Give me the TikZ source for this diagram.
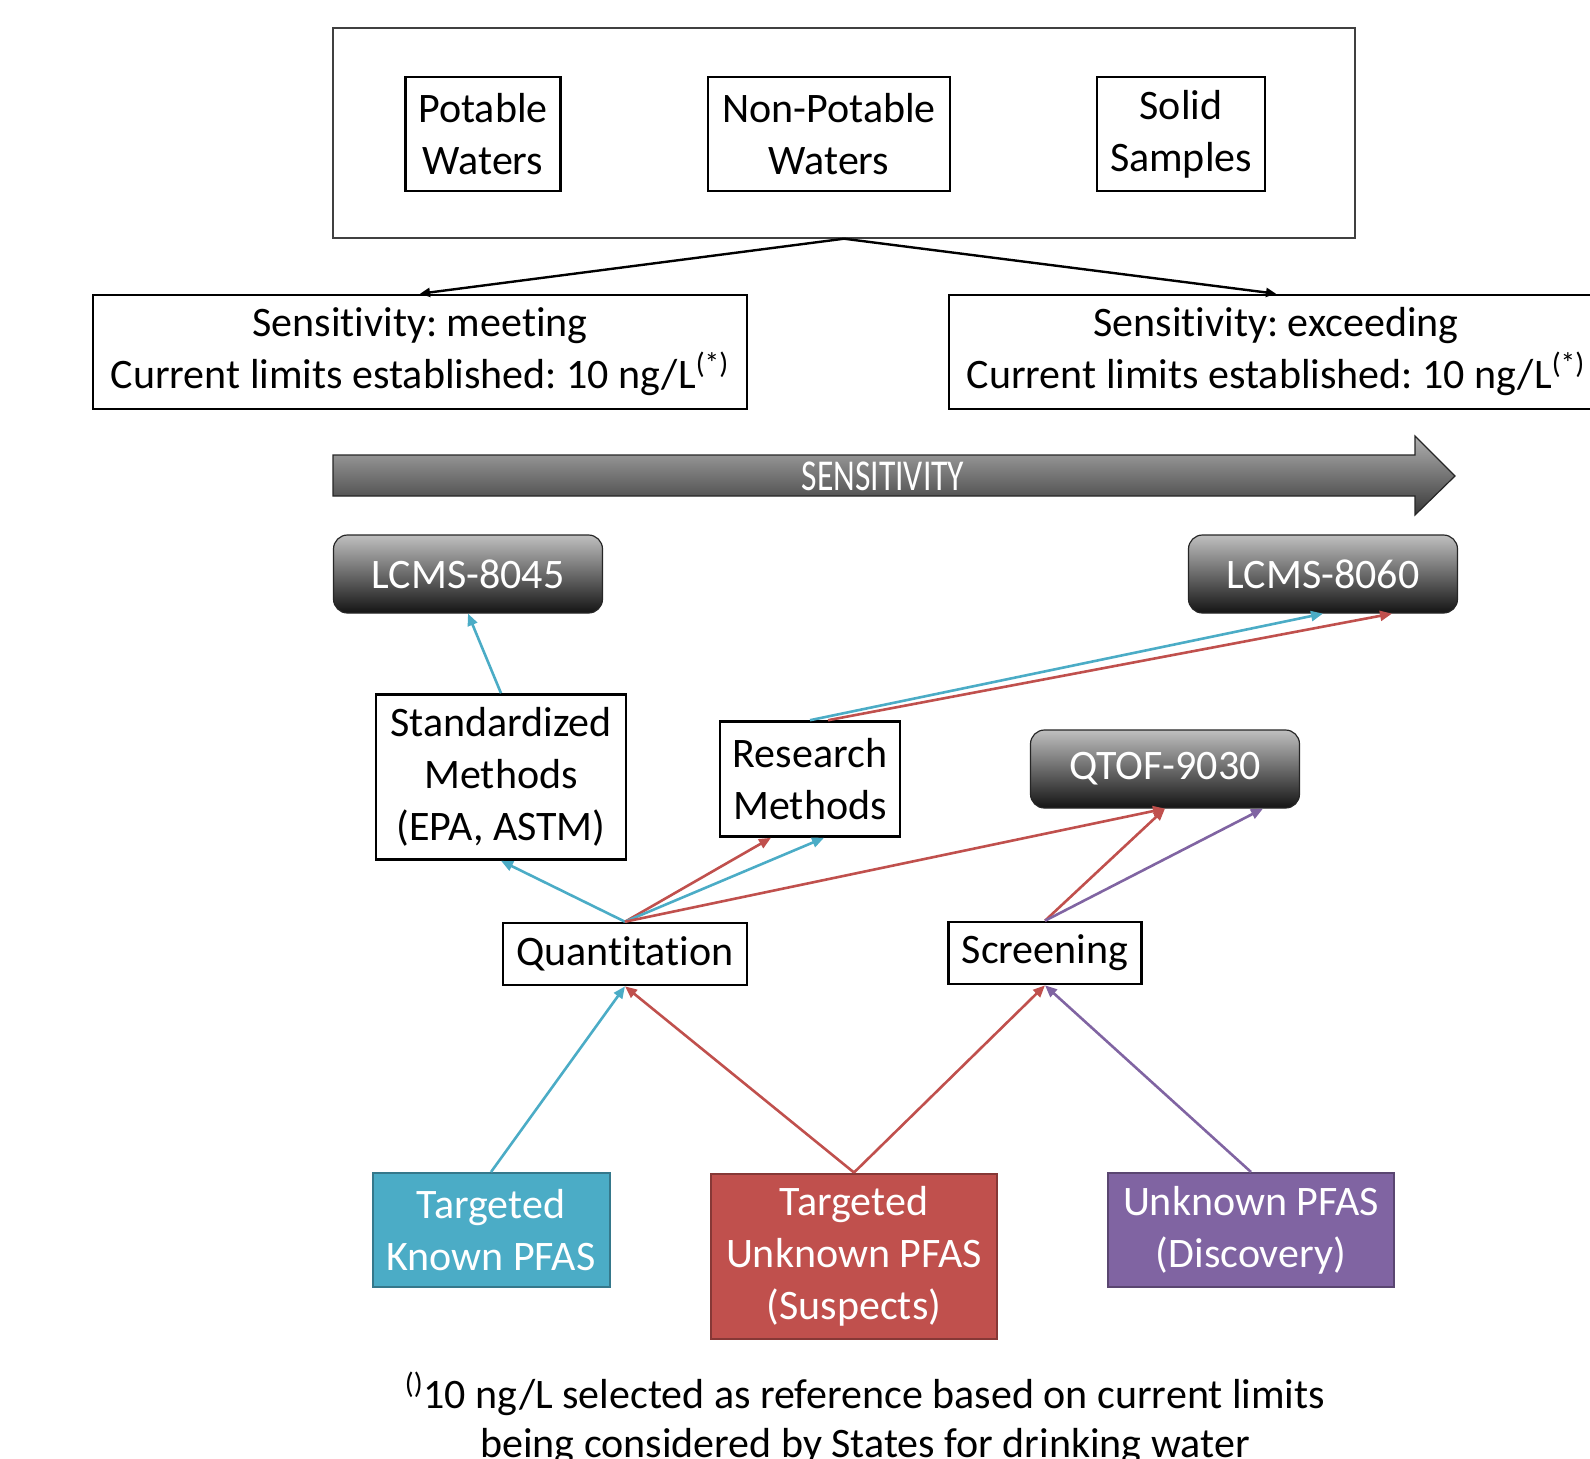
\documentclass[tikz,border=0pt]{standalone}
\usepackage{fontspec}
\setmainfont{Carlito}[Ligatures=NoCommon]
\usetikzlibrary{arrows.meta}
\definecolor{pfasblue}{HTML}{4BACC6}
\definecolor{pfasred}{HTML}{C0504D}
\definecolor{pfaspurple}{HTML}{8064A2}

\begin{document}
\frenchspacing
\begin{tikzpicture}[x=0.5pt,y=-0.5pt,
  txt/.style={font=\fontsize{21}{26}\selectfont},
  box/.style={txt,draw=black,line width=1.3pt,align=center,inner sep=0pt},
  instr/.style={txt,rounded corners=7pt,top color=gray!50,bottom color=black!92,draw=black!85,line width=0.6pt,text=white,minimum width=134.5pt,minimum height=39pt},
  sample/.style={txt,draw=#1!70!black,fill=#1,line width=1pt,text=white,align=center,inner sep=0pt},
  link/.style={line width=1.3pt,draw=#1,-{Triangle[length=6pt,width=5pt]}},
  ]
\clip (0,0) rectangle (1590,1458);

% sample types
\node[draw=black!75,line width=0.7pt,minimum width=511pt,minimum height=105pt] (sources) at (844,133) {};
\node[box,minimum width=77.5pt,minimum height=57pt] (potable) at (483,134) {Potable\\Waters};
\node[box,minimum width=121pt,minimum height=57pt] (nonpotable) at (829,134) {Non-Potable\\Waters};
\node[box,minimum width=84pt,minimum height=57pt] (solid) at (1181,134) {Solid\\Samples};

\node[box,minimum width=327pt,minimum height=57pt] (meeting) at (420,352) {Sensitivity: meeting\\Current limits established: 10 ng/L\textsuperscript{(*)}};
\node[box,minimum width=327pt,minimum height=57pt] (exceeding) at (1276,352) {Sensitivity: exceeding\\Current limits established: 10 ng/L\textsuperscript{(*)}};
\draw[line width=1.2pt,-{Triangle[length=5pt,width=4.5pt]}] (sources.south) -- (meeting.north);
\draw[line width=1.2pt,-{Triangle[length=5pt,width=4.5pt]}] (sources.south) -- (exceeding.north);

% sensitivity arrow
\draw[top color=gray!62,bottom color=black!78,draw=black!85,line width=0.6pt]
  (333,455) -- (1415,455) -- (1415,436) -- (1455,476) -- (1415,515) -- (1415,496) -- (333,496) -- cycle;
\node[txt,text=white] (senslabel) at (883,476) {\scalebox{0.8}[1.05]{SENSITIVITY}};

% instruments
\node[instr] (lcms45) at (468,574) {LCMS-8045};
\node[instr] (lcms60) at (1323,574) {LCMS-8060};
\node[instr] (qtof) at (1165,769) {QTOF-9030};

% methods
\node[box,minimum width=125pt,minimum height=82.5pt] (standard) at (501,777) {Standardized\\Methods\\(EPA, ASTM)};
\node[box,minimum width=90pt,minimum height=57.5pt] (research) at (810,779) {Research\\Methods};
\node[box,minimum width=122pt,minimum height=31pt] (quant) at (625,954) {Quantitation};
\node[box,minimum width=96.5pt,minimum height=31pt] (screen) at (1045,953) {Screening};

% pfas classes
\node[sample=pfasblue,minimum width=118.5pt,minimum height=57pt] (known) at (491,1230) {Targeted\\Known PFAS};
\node[sample=pfasred,minimum width=143pt,minimum height=82.5pt] (suspects) at (854,1256) {Targeted\\Unknown PFAS\\(Suspects)};
\node[sample=pfaspurple,minimum width=143pt,minimum height=57pt] (discovery) at (1251,1230) {Unknown PFAS\\(Discovery)};

% links
\draw[link=pfasblue] (standard.north) -- (lcms45.south);
\draw[link=pfasblue] (quant.north) -- (standard.south);
\draw[link=pfasred] (quant.north) -- ([xshift=-19.5pt]research.south);
\draw[link=pfasblue] (quant.north) -- ([xshift=7pt]research.south);
\draw[link=pfasred] (quant.north) -- (qtof.south);
\draw[link=pfasblue] (research.north) -- (lcms60.south);
\draw[link=pfasred] ([xshift=9pt]research.north) -- ([xshift=34.5pt]lcms60.south);
\draw[link=pfasred] (screen.north) -- (qtof.south);
\draw[link=pfaspurple] (screen.north) -- ([xshift=49pt]qtof.south);
\draw[link=pfasblue] (known.north) -- (quant.south);
\draw[link=pfasred] (suspects.north) -- (quant.south);
\draw[link=pfasred] (suspects.north) -- (screen.south);
\draw[link=pfaspurple] (discovery.north) -- (screen.south);

% footnote
\node[txt,align=center,font=\fontsize{21}{24.5}\selectfont] (note) at (865,1418) {\textsuperscript{()}10 ng/L selected as reference based on current limits\\being considered by States for drinking water};
\end{tikzpicture}
\end{document}
